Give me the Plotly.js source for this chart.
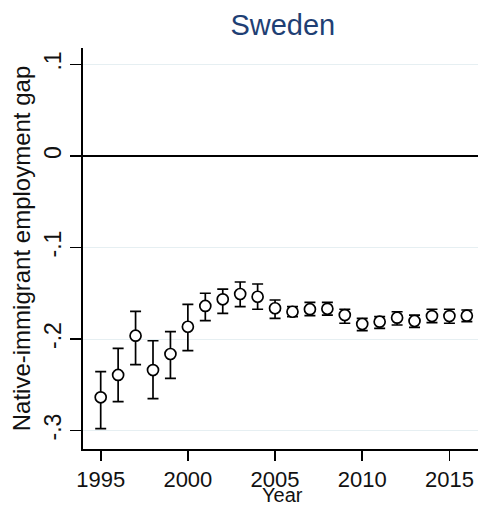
<!DOCTYPE html>
<html>
<head>
<meta charset="utf-8">
<script src="https://cdn.plot.ly/plotly-3.0.1.min.js"></script>
<style>html,body{margin:0;padding:0;background:#fff;}#chart{width:478px;height:506px;}</style>
</head>
<body>
<div id="chart"></div>
<script>
const years = [1995,1996,1997,1998,1999,2000,2001,2002,2003,2004,2005,2006,2007,2008,2009,2010,2011,2012,2013,2014,2015,2016];
const gap = [-0.2637,-0.2393,-0.1964,-0.2339,-0.2164,-0.1866,-0.1639,-0.1566,-0.1508,-0.1538,-0.1664,-0.1702,-0.1674,-0.1670,-0.1738,-0.1836,-0.1811,-0.1767,-0.1803,-0.1749,-0.1749,-0.1745];
const ciUpper = [-0.2357,-0.2102,-0.1697,-0.2019,-0.1920,-0.1621,-0.1500,-0.1454,-0.1377,-0.1399,-0.1574,-0.1647,-0.1599,-0.1599,-0.1675,-0.1774,-0.1756,-0.1702,-0.1738,-0.1675,-0.1675,-0.1683];
const ciLower = [-0.2980,-0.2685,-0.2281,-0.2652,-0.2430,-0.2128,-0.1800,-0.1719,-0.1647,-0.1675,-0.1774,-0.1756,-0.1745,-0.1738,-0.1828,-0.1909,-0.1883,-0.1847,-0.1872,-0.1822,-0.1828,-0.1811];
const yTickVals = [-0.3,-0.2,-0.1,0,0.1];
const yTickText = ["-.3","-.2","-.1","0",".1"];
const xTickVals = [1995,2000,2005,2010,2015];

const errPlus = gap.map((g,i)=>ciUpper[i]-g);
const errMinus = gap.map((g,i)=>g-ciLower[i]);

const font = "Liberation Sans, Arial, sans-serif";
const trace = {
  x: years, y: gap, type: 'scatter', mode: 'markers',
  marker: {symbol: 'circle', size: 11, color: '#ffffff', line: {color: '#000000', width: 1.7}},
  error_y: {type: 'data', symmetric: false, array: errPlus, arrayminus: errMinus,
            color: '#000000', thickness: 1.7, width: 5.5},
  hoverinfo: 'skip'
};
const layout = {
  width: 478, height: 506,
  margin: {l: 83, r: 0, t: 48, b: 57},
  paper_bgcolor: '#ffffff', plot_bgcolor: '#ffffff',
  showlegend: false,
  font: {family: font, color: '#111111'},
  title: {text: 'Sweden', font: {family: font, size: 29, color: '#1f3f74'},
          xref: 'paper', x: 0.506, xanchor: 'center', yref: 'container', y: 0.951, yanchor: 'middle'},
  xaxis: {
    range: [1993.985, 2016.64], tickmode: 'array', tickvals: xTickVals,
    ticks: 'outside', ticklen: 10, tickwidth: 1.7, tickcolor: '#000',
    showline: true, linecolor: '#000', linewidth: 1.9, showgrid: false, zeroline: false,
    tickfont: {family: font, size: 22, color: '#111'}
  },
  yaxis: {
    range: [-0.3202, 0.118], tickmode: 'array', tickvals: yTickVals, ticktext: yTickText,
    tickangle: -90,
    ticks: 'outside', ticklen: 11, tickwidth: 1.7, tickcolor: '#000',
    showline: true, linecolor: '#000', linewidth: 1.9,
    showgrid: true, gridcolor: '#e6eff2', gridwidth: 1,
    zeroline: true, zerolinecolor: '#000', zerolinewidth: 1.7,
    tickfont: {family: font, size: 23, color: '#111'},
    title: {text: 'Native-immigrant employment gap', font: {family: font, size: 24, color: '#111'}, standoff: 2}
  },
  annotations: [{
    text: 'Year', xref: 'paper', yref: 'paper', x: 0.506, y: -0.1135,
    xanchor: 'center', yanchor: 'middle', showarrow: false, borderpad: 0,
    font: {family: font, size: 20, color: '#111'}
  }]
};
Plotly.newPlot('chart', [trace], layout, {staticPlot: true, displayModeBar: false});
</script>
</body>
</html>
